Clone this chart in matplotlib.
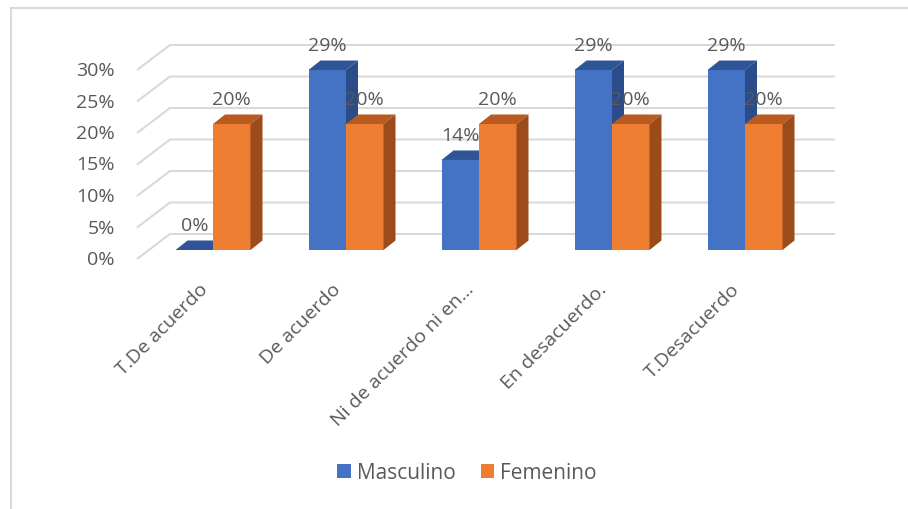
import numpy as np
import matplotlib
matplotlib.use("Agg")
import matplotlib.pyplot as plt
from matplotlib.patches import Polygon, Patch
from matplotlib.lines import Line2D

# data (2/7 and 1/5 shares shown as rounded percentages)
categories = ["T.De acuerdo", "De acuerdo", "Ni de acuerdo ni en…",
              "En desacuerdo.", "T.Desacuerdo"]
masculino = [0.0, 28.57, 14.29, 28.57, 28.57]
femenino = [20.0, 20.0, 20.0, 20.0, 20.0]
y_ticks = [0, 5, 10, 15, 20, 25, 30]

plt.rcParams["font.family"] = ["Open Sans", "DejaVu Sans"]
TEXT = "#595959"
GRID = "#D9D9D9"
FS = 14

# pixel geometry of the 3d look (figure is 908x510 px at dpi 100)
PX_X = 133.0     # px per category
PX_Y = 6.3       # px per percent
X0, Y0 = 213.0, 251.0   # px position of category 0 / floor
W, H = 908, 510

bar_w = 37.5 / PX_X
dep_x = 12.0 / PX_X
dep_y = 9.5 / PX_Y

wall_front_x = (137 - X0) / PX_X
wall_back_x = (170 - X0) / PX_X
wall_end_x = (835 - X0) / PX_X
wall_front_dy = -9 / PX_Y
wall_back_dy = 16 / PX_Y

colors = {
    "Masculino": ("#4472C4", "#2F5597", "#2B4C8A"),
    "Femenino": ("#ED7D31", "#B95A1F", "#9C4B1B"),
}

fig = plt.figure(figsize=(W / 100, H / 100), dpi=100)
ax = fig.add_axes([0, 0, 1, 1])
ax.set_xlim((0 - X0) / PX_X, (W - X0) / PX_X)
ax.set_ylim((Y0 - H) / PX_Y, Y0 / PX_Y)
ax.axis("off")

# chart border
fig.add_artist(Line2D([11 / W, 11 / W], [0, 1 - 9 / H], color=GRID, lw=1.5))
fig.add_artist(Line2D([11 / W, 1], [1 - 9 / H, 1 - 9 / H], color=GRID, lw=1.5))

# wall gridlines + y labels
for v in y_ticks:
    ax.plot([wall_front_x, wall_back_x, wall_end_x],
            [v + wall_front_dy, v + wall_back_dy, v + wall_back_dy],
            color=GRID, lw=1.5, zorder=1, solid_capstyle="butt")
    ax.text(wall_front_x - 22 / PX_X, v + wall_front_dy, f"{v}%",
            ha="right", va="center", fontsize=FS, color=TEXT)


def draw_bar(x_left, val, name, z):
    front, top, side = colors[name]
    ax.bar(x_left, val, width=bar_w, align="edge", color=front,
           zorder=z, linewidth=0)
    xr = x_left + bar_w
    ax.add_patch(Polygon([(x_left, val), (xr, val), (xr + dep_x, val + dep_y),
                          (x_left + dep_x, val + dep_y)],
                         closed=True, facecolor=top, edgecolor="none", zorder=z))
    ax.add_patch(Polygon([(xr, 0), (xr + dep_x, dep_y), (xr + dep_x, val + dep_y),
                          (xr, val)],
                         closed=True, facecolor=side, edgecolor="none", zorder=z))
    ax.annotate(f"{val:.0f}%", (x_left + bar_w / 2, val), xytext=(0, 18),
                textcoords="offset points", ha="center", va="center",
                fontsize=FS, color=TEXT, zorder=20)


x = np.arange(len(categories))
for i in x:
    draw_bar(i - bar_w, masculino[i], "Masculino", 3 + 2 * i)
    draw_bar(i, femenino[i], "Femenino", 4 + 2 * i)

# category labels
for i, lab in zip(x, categories):
    ax.text(i - 8 / PX_X, -36 / PX_Y, lab, rotation=45, rotation_mode="anchor",
            ha="right", va="center", fontsize=FS, color=TEXT)

handles = [Patch(facecolor=colors["Masculino"][0], label="Masculino"),
           Patch(facecolor=colors["Femenino"][0], label="Femenino")]
leg = fig.legend(handles=handles, loc="center", ncol=2,
                 bbox_to_anchor=(467 / W, 1 - 474 / H), frameon=False,
                 fontsize=15, handlelength=0.65, handleheight=0.65,
                 handletextpad=0.3, columnspacing=1.2)
for t in leg.get_texts():
    t.set_color(TEXT)

fig.savefig("out.png", dpi=100)
